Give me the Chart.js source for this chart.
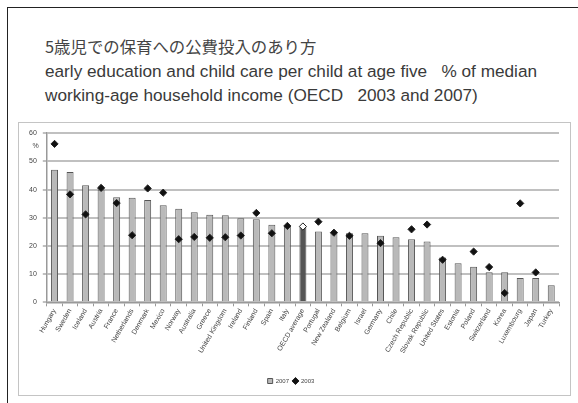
<!DOCTYPE html>
<html><head><meta charset="utf-8">
<script src="https://cdn.jsdelivr.net/npm/chart.js@4/dist/chart.umd.min.js"></script>
<style>
html,body{margin:0;padding:0;background:#fff;width:578px;height:403px;overflow:hidden;}
#frame{position:absolute;left:7px;top:7px;width:600px;height:420px;border:1.5px solid #222;box-sizing:border-box;}
.t{position:absolute;left:45px;color:#3a3a3a;white-space:nowrap;font-family:"Liberation Sans",Arial,sans-serif;}
#t1{top:34px;font-size:16.4px;font-family:"Noto Sans CJK JP",sans-serif;color:#444;}
#t2{top:61px;font-size:17.2px;}
#t3{top:85px;font-size:17.2px;}
#box{position:absolute;left:18px;top:122px;width:553px;height:274px;border:1.5px solid #c4c4c4;box-sizing:border-box;background:#fff;}
canvas{display:block;}
</style></head>
<body>
<div id="frame"></div>
<div class="t" id="t1">5歳児での保育への公費投入のあり方</div>
<div class="t" id="t2">early education and child care per child at age five &nbsp; % of median</div>
<div class="t" id="t3">working-age household income (OECD &nbsp;&nbsp;2003 and 2007)</div>
<div id="box"><canvas id="c" width="550" height="271"></canvas></div>
<script>
const countries = ["Hungary","Sweden","Iceland","Austria","France","Netherlands","Denmark","Mexico","Norway","Australia","Greece","United Kingdom","Ireland","Finland","Spain","Italy","OECD average","Portugal","New Zealand","Belgium","Israel","Germany","Chile","Czech Republic","Slovak Republic","United States","Estonia","Poland","Switzerland","Korea","Luxembourg","Japan","Turkey"];
const values2007 = [47,46.2,41.5,40,37.3,37.1,36.3,34.4,33.2,32,31.1,30.9,29.8,29.5,27.5,27.3,26.7,25.1,25,24.5,24.5,23.6,23.1,22.4,21.6,15.9,13.9,12.6,10.7,10.7,8.6,8.6,6.1];
const values2003 = [56.2,38.3,31.2,40.6,35.2,23.8,40.4,38.9,22.4,23.2,22.9,23.1,23.7,31.7,24.5,27.1,26.9,28.6,24.7,23.6,null,21,null,25.9,27.6,15.1,null,18,12.5,3.3,35.1,10.6,null];
const yTicks = [0,10,20,30,40,50,60];

const barFill = countries.map(c => c === "OECD average" ? "#555555" : "#b9b9b9");
const ptFill = countries.map(c => c === "OECD average" ? "#ffffff" : "#111111");

const pctPlugin = {
  id: 'pct',
  afterDraw(chart) {
    const y = chart.scales.y, ctx = chart.ctx;
    ctx.save();
    ctx.font = '7px "Liberation Sans", Arial, sans-serif';
    ctx.fillStyle = '#444';
    ctx.textAlign = 'right';
    ctx.textBaseline = 'middle';
    ctx.fillText('%', y.right - 8, y.getPixelForValue(55.5));
    ctx.restore();
  }
};

new Chart(document.getElementById('c'), {
  data: {
    labels: countries,
    datasets: [
      { type: 'scatter', label: '2003', data: values2003, showLine: false,
        pointStyle: 'rectRot', pointRadius: 3.6, pointBackgroundColor: ptFill,
        pointBorderColor: '#222', pointBorderWidth: 1, backgroundColor: '#111', borderColor: '#222', order: 0 },
      { type: 'bar', label: '2007', data: values2007, backgroundColor: barFill,
        borderColor: '#555', borderWidth: 1, barPercentage: 0.45, categoryPercentage: 1,
        pointStyle: 'rect', order: 1 }
    ]
  },
  options: {
    responsive: false, animation: false, devicePixelRatio: 1,
    layout: { padding: { left: 4, right: 10, top: 8, bottom: 0 } },
    plugins: {
      legend: { position: 'bottom', reverse: true,
        labels: { usePointStyle: true, boxWidth: 5, boxHeight: 5, padding: 4,
          font: { size: 6, family: '"Liberation Sans", Arial, sans-serif' }, color: '#444' } },
      tooltip: { enabled: false }
    },
    scales: {
      x: { type: 'category', offset: true,
        afterFit(s) { s.height += 18; },
        grid: { display: true, drawOnChartArea: false, tickLength: 4, color: '#999', offset: true },
        border: { color: '#999', width: 1.5 },
        ticks: { minRotation: 60, maxRotation: 60, autoSkip: false, padding: 1,
          font: { size: 7, family: '"Liberation Sans", Arial, sans-serif' }, color: '#444' } },
      y: { min: 0, max: 60,
        afterBuildTicks(s) { s.ticks = yTicks.map(v => ({ value: v })); },
        grid: { color: '#c0c0c0', lineWidth: 2, tickLength: 4 },
        border: { color: '#999', width: 1.5 },
        ticks: { padding: 6, font: { size: 7, family: '"Liberation Sans", Arial, sans-serif' }, color: '#444' } }
    }
  },
  plugins: [pctPlugin]
});
</script>
</body></html>
